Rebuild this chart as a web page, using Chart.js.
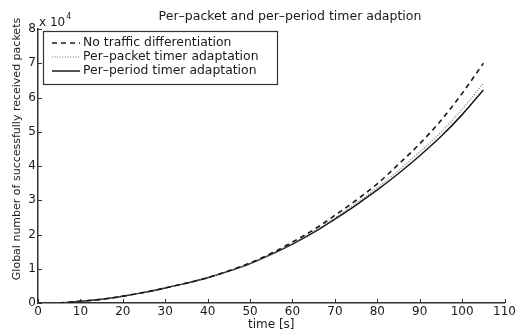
<!DOCTYPE html>
<html>
<head>
<meta charset="utf-8">
<script src="https://cdn.jsdelivr.net/npm/chart.js@4.4.1/dist/chart.umd.min.js"></script>
<style>
html,body{margin:0;padding:0;background:#fff;}
#wrap{width:518px;height:330px;position:relative;}
</style>
</head>
<body>
<div id="wrap"><canvas id="c" width="518" height="330"></canvas></div>
<script>
// time [s]
const times = [5,10,15,20,25,30,35,40,45,50,55,60,65,70,75,80,85,90,95,100,105];
// global number of successfully received packets (x 10^4)
const noDiff    = [0,0.05,0.11,0.2,0.31,0.44,0.58,0.74,0.94,1.17,1.45,1.78,2.14,2.56,3.0,3.48,4.05,4.65,5.33,6.12,7.0];
const perPacket = [0,0.05,0.11,0.2,0.31,0.44,0.58,0.74,0.93,1.15,1.43,1.74,2.09,2.49,2.92,3.37,3.87,4.41,4.99,5.66,6.41];
const perPeriod = [0,0.05,0.11,0.2,0.31,0.44,0.58,0.74,0.93,1.15,1.42,1.72,2.06,2.45,2.86,3.3,3.78,4.3,4.86,5.5,6.22];
const seriesNames = ['No traffic differentiation','Per\u2013packet timer adaptation','Per\u2013period timer adaptation'];
const xTicks = [0,10,20,30,40,50,60,70,80,90,100,110];
const yTicks = [0,1,2,3,4,5,6,7,8];
const titleText = 'Per\u2013packet and per\u2013period timer adaption';
const yTitleText = 'Global number of successfully received packets';
const xTitleText = 'time [s]';
const SCALE = 10000;

const FONT = '"DejaVu Sans", Verdana, sans-serif';
const INK = '#1a1a1a';

function pts(arr){ return times.map((t,i)=>({x:t, y:arr[i]*SCALE})); }

const styles = [
  {borderColor:INK, borderWidth:1.6, borderDash:[5,4]},
  {borderColor:'#777', borderWidth:1.2, borderDash:[1,1.6]},
  {borderColor:INK, borderWidth:1.5, borderDash:[]}
];
const seriesData = [noDiff, perPacket, perPeriod];

const overlay = {
  id:'overlay',
  afterDraw(chart){
    const ctx = chart.ctx, xs = chart.scales.x, ys = chart.scales.y, ca = chart.chartArea;
    ctx.save();
    // inward ticks
    ctx.strokeStyle = '#333'; ctx.lineWidth = 1;
    xTicks.forEach(v=>{
      const px = Math.round(xs.getPixelForValue(v))+0.5;
      ctx.beginPath(); ctx.moveTo(px, ca.bottom); ctx.lineTo(px, ca.bottom-4); ctx.stroke();
    });
    yTicks.forEach(v=>{
      const py = Math.round(ys.getPixelForValue(v*SCALE))+0.5;
      ctx.beginPath(); ctx.moveTo(ca.left, py); ctx.lineTo(ca.left+4, py); ctx.stroke();
    });
    ctx.fillStyle = INK;
    // title
    ctx.font = '12.5px ' + FONT;
    ctx.textAlign = 'center'; ctx.textBaseline = 'middle';
    ctx.fillText(titleText, 290, 17);
    // y title
    ctx.save();
    ctx.translate(17, 149);
    ctx.rotate(-Math.PI/2);
    ctx.font = '11px ' + FONT;
    ctx.fillText(yTitleText, 0, 0);
    ctx.restore();
    // exponent label
    ctx.textBaseline = 'alphabetic'; ctx.textAlign = 'left';
    ctx.font = '12px ' + FONT;
    ctx.fillText('x 10', ca.left+1, ca.top-3);
    const w = ctx.measureText('x 10').width;
    ctx.font = '8px ' + FONT;
    ctx.fillText('4', ca.left+1+w+1, ca.top-10);
    // legend box
    const bx = ca.left+5, by = ca.top+2, bw = 234, bh = 53;
    ctx.fillStyle = '#fff';
    ctx.fillRect(bx, by, bw, bh);
    ctx.strokeStyle = '#333'; ctx.lineWidth = 1.2;
    ctx.strokeRect(bx+0.5, by+0.5, bw, bh);
    ctx.font = '12.4px ' + FONT;
    ctx.textBaseline = 'middle';
    seriesNames.forEach((name,i)=>{
      const yy = by + 12 + i*14;
      const st = styles[i];
      ctx.strokeStyle = st.borderColor; ctx.lineWidth = st.borderWidth;
      ctx.setLineDash(st.borderDash);
      ctx.beginPath(); ctx.moveTo(bx+9, yy); ctx.lineTo(bx+37, yy); ctx.stroke();
      ctx.setLineDash([]);
      ctx.fillStyle = INK;
      ctx.fillText(name, bx+40, yy);
    });
    ctx.restore();
  }
};

new Chart(document.getElementById('c'), {
  type:'line',
  data:{
    datasets: seriesData.map((arr,i)=>Object.assign({
      label: seriesNames[i],
      data: pts(arr),
      pointRadius:0,
      fill:false,
      tension:0.35,
      cubicInterpolationMode:'monotone'
    }, styles[i]))
  },
  options:{
    responsive:false,
    animation:false,
    devicePixelRatio:1,
    layout:{padding:{left:0,right:13,top:29,bottom:0}},
    plugins:{
      legend:{display:false},
      tooltip:{enabled:false},
      title:{display:false}
    },
    scales:{
      x:{
        type:'linear', min:0, max:110,
        afterBuildTicks(s){ s.ticks = xTicks.map(v=>({value:v})); },
        afterFit(s){ s.height = 27; },
        grid:{display:false, drawTicks:false},
        border:{display:true, color:'#333', width:1.5},
        ticks:{color:INK, font:{family:FONT,size:12}, padding:2, maxRotation:0, autoSkip:false},
        title:{display:true, text:xTitleText, color:INK, font:{family:FONT,size:12}, padding:{top:0,bottom:-2}}
      },
      y:{
        type:'linear', min:0, max:8*SCALE,
        afterBuildTicks(s){ s.ticks = yTicks.map(v=>({value:v*SCALE})); },
        afterFit(s){ s.width = 38; },
        grid:{display:false, drawTicks:false},
        border:{display:true, color:'#333', width:1.5},
        ticks:{color:INK, font:{family:FONT,size:12}, padding:2, callback:(v)=>String(v/SCALE)},
        title:{display:false}
      }
    }
  },
  plugins:[overlay]
});
</script>
</body>
</html>
